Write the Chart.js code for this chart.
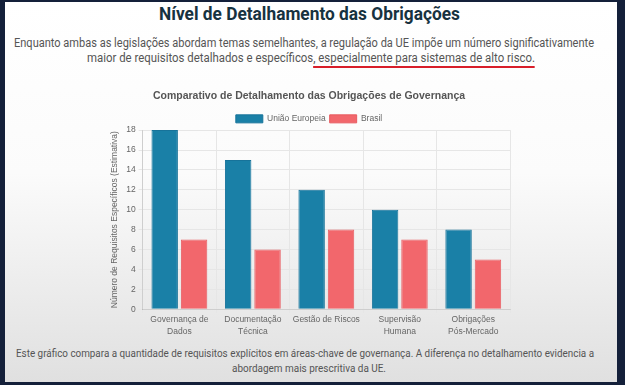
<!DOCTYPE html>
<html><head><meta charset="utf-8">
<script src="https://cdn.jsdelivr.net/npm/chart.js@4"></script>
<style>
html,body{margin:0;padding:0;}
body{width:625px;height:385px;overflow:hidden;background:#14203a;position:relative;font-family:Roboto,"Liberation Sans",sans-serif;}
#page{position:absolute;left:5px;top:2px;width:612px;height:380px;background:linear-gradient(#ffffff 0%,#fbfbfb 45%,#e0e0e0 100%);}
.fit{position:absolute;white-space:nowrap;transform-origin:0 50%;}
#h{top:1px;font-size:19px;font-weight:700;color:#17323f;line-height:22px;}
.intro{font-size:12.5px;line-height:15px;color:#555;}
#i1{top:33px;} #i2{top:48px;}
.ul{border-bottom:2px solid #d81e2a;padding-bottom:1px;}
.note{font-size:10px;line-height:14px;color:#555;}
#n1{top:345px;} #n2{top:360px;}
#wrap{position:absolute;left:103px;top:78px;width:403px;height:259px;}
</style></head>
<body>
<div id="page">
<span class="fit" id="h" data-x0="159" data-x1="460">Nível de Detalhamento das Obrigações</span>
<span class="fit intro" id="i1" data-x0="14" data-x1="594">Enquanto ambas as legislações abordam temas semelhantes, a regulação da UE impõe um número significativamente</span>
<span class="fit intro" id="i2" data-x0="87" data-x1="535">maior de requisitos detalhados e específicos<span class="ul">, especialmente para sistemas de alto risco.</span></span>
<div id="wrap"><canvas id="c"></canvas></div>
<span class="fit note" id="n1" data-x0="16" data-x1="594">Este gráfico compara a quantidade de requisitos explícitos em áreas-chave de governança. A diferença no detalhamento evidencia a</span>
<span class="fit note" id="n2" data-x0="232" data-x1="386">abordagem mais prescritiva da UE.</span>
</div>
<script>
document.querySelectorAll('.fit').forEach(el => {
  const w = el.getBoundingClientRect().width;
  const x0 = +el.dataset.x0 - 5, x1 = +el.dataset.x1 - 5;
  el.style.left = x0 + 'px';
  el.style.transform = 'scaleX(' + ((x1 - x0) / w) + ')';
});

const categories = [["Governança de","Dados"],["Documentação","Técnica"],"Gestão de Riscos",["Supervisão","Humana"],["Obrigações","Pós-Mercado"]];
const euValues = [18, 15, 12, 10, 8];
const brValues = [7, 6, 8, 7, 5];
const seriesNames = ["União Europeia", "Brasil"];
const yTicks = [0,2,4,6,8,10,12,14,16,18];

const tightLegend = {
  id: 'tightLegend',
  beforeLayout(chart) {
    const lg = chart.legend;
    if (lg && !lg._tight) {
      const orig = lg.fit.bind(lg);
      lg.fit = function () { orig(); this.height -= 3; };
      lg._tight = true;
    }
  }
};

Chart.defaults.font.family = '"Liberation Sans", Arial, sans-serif';
Chart.defaults.color = '#666';
new Chart(document.getElementById('c'), {
  type: 'bar',
  data: {
    labels: categories,
    datasets: [
      {label: seriesNames[0], data: euValues, backgroundColor: '#1a80a7', borderColor: '#17739a', borderWidth: 1},
      {label: seriesNames[1], data: brValues, backgroundColor: '#f2676c', borderColor: '#e85c61', borderWidth: 1}
    ]
  },
  plugins: [tightLegend],
  options: {
    responsive: true, maintainAspectRatio: false, animation: false,
    layout: {padding: {left: 0, right: 1, top: 0, bottom: 0}},
    plugins: {
      title: {display: true, text: 'Comparativo de Detalhamento das Obrigações de Governança', color: '#555', font: {size: 10.5, weight: 'bold'}, padding: {top: 10, bottom: 8}},
      legend: {labels: {boxWidth: 27, boxHeight: 8, font: {size: 8.5}, color: '#666', padding: 4}},
      tooltip: {enabled: false}
    },
    scales: {
      y: {
        min: 0, max: 18,
        afterBuildTicks: (ax) => { ax.ticks = yTicks.map(v => ({value: v})); },
        ticks: {font: {size: 8.5}, color: '#666', padding: 3},
        grid: {color: '#e6e6e6', tickLength: 4},
        title: {display: true, text: 'Número de Requisitos Específicos (Estimativa)', font: {size: 8.5}, color: '#666', padding: {top: 2, bottom: 3}}
      },
      x: {
        ticks: {font: {size: 8.5, lineHeight: 1.4}, color: '#666', maxRotation: 0, autoSkip: false, padding: 1},
        grid: {color: '#e6e6e6', tickLength: 4}
      }
    }
  }
});
</script>
</body></html>
